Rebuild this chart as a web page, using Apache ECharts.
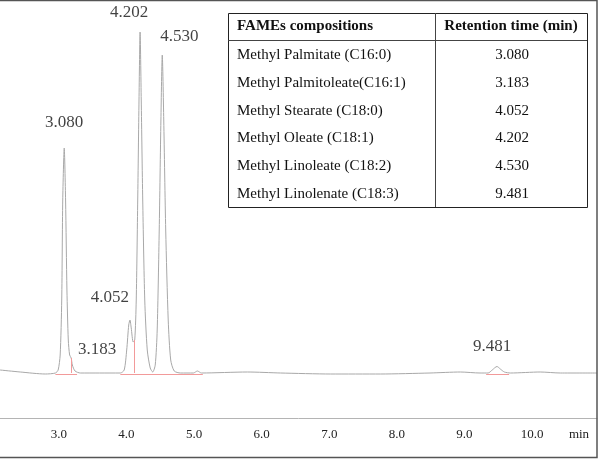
<!DOCTYPE html>
<html>
<head>
<meta charset="utf-8">
<script src="https://cdn.jsdelivr.net/npm/echarts@6/dist/echarts.min.js"></script>
<style>
  html, body { margin: 0; padding: 0; background: #fff; }
  #main { width: 600px; height: 459px; }
</style>
</head>
<body>
<div id="main"></div>
<script>
// 表格: 组分名 + 保留时间
const compounds = [
  'Methyl Palmitate (C16:0)',
  'Methyl Palmitoleate(C16:1)',
  'Methyl Stearate (C18:0)',
  'Methyl Oleate (C18:1)',
  'Methyl Linoleate (C18:2)',
  'Methyl Linolenate (C18:3)'
];
const retentionTimes = [3.080, 3.183, 4.052, 4.202, 4.530, 9.481];
// 峰高
const peakHeights = [225, 15, 53, 341, 318, 6.5];

// 色谱图曲线 [时间 min, 信号]
const traceTime = [
  2.13, 2.43, 2.80, 2.95, 2.99, 3.02, 3.043, 3.058, 3.080, 3.10, 3.12, 3.14, 3.16, 3.183, 3.20, 3.24, 3.32,
  3.60, 3.91, 3.967, 4.004, 4.034, 4.052, 4.071, 4.10, 4.123, 4.145, 4.167, 4.186, 4.202, 4.219, 4.241,
  4.271, 4.308, 4.352, 4.389, 4.426, 4.455, 4.485, 4.51, 4.530, 4.552, 4.581, 4.618, 4.655, 4.707, 4.80,
  4.99, 5.05, 5.11, 5.79, 6.28, 7.02, 7.76, 8.49, 8.94, 9.23, 9.35, 9.41, 9.481, 9.53, 9.59, 9.68,
  10.12, 10.42, 10.96
];
const traceSignal = [
  3, 1, -1, 0, 3, 18, 73, 173, 225, 173, 83, 33, 18, 15, 8, 2, 0,
  0, 0, 3, 23, 48, 53, 45, 31, 33, 73, 173, 273, 341, 273, 173,
  73, 23, 5, 1, 8, 43, 143, 253, 318, 253, 143, 53, 13, 2, 0,
  0, 2, 0, 1, 0, -1, -1, 0, 1, 0, 0, 3, 6.5, 4, 1, 0,
  1, 0, 0
];

// 积分基线 [起, 止] 和垂线 [时间, 高度]
const baseSegments = [[2.95, 3.27], [3.91, 5.13], [9.32, 9.66]];
const dropLines = [[3.183, 15], [4.123, 33]];

// 峰标签偏移
const labelOffsets = [[0, -25], [26, -8], [-20, -22], [-11, -19], [17, -18], [-5, -20]];

let chart = echarts.init(document.getElementById('main'));

let trace = traceTime.map((t, i) => [t, traceSignal[i]]);

let markData = [];
baseSegments.forEach(s => {
  markData.push([{ coord: [s[0], -0.8] }, { coord: [s[1], -0.8] }]);
});
dropLines.forEach(d => {
  markData.push([{ coord: [d[0], 0] }, { coord: [d[0], d[1]] }]);
});

let peakPoints = retentionTimes.map((t, i) => ({
  value: [t, peakHeights[i]],
  label: { offset: labelOffsets[i] }
}));

// 表格图形
const tLeft = 228, tRight = 587, tTop = 13, tBottom = 207, tMid = 435, headH = 27;
const rowH = (tBottom - tTop - headH) / compounds.length;
const serif = '"Liberation Serif", "Times New Roman", serif';
let tableEls = [
  {
    type: 'rect',
    shape: { x: tLeft + 0.5, y: tTop + 0.5, width: tRight - tLeft, height: tBottom - tTop },
    style: { fill: '#fff', stroke: '#222', lineWidth: 1 }
  },
  {
    type: 'line',
    shape: { x1: tMid + 0.5, y1: tTop, x2: tMid + 0.5, y2: tBottom },
    style: { stroke: '#444', lineWidth: 1 }
  },
  {
    type: 'line',
    shape: { x1: tLeft, y1: tTop + headH + 0.5, x2: tRight, y2: tTop + headH + 0.5 },
    style: { stroke: '#444', lineWidth: 1 }
  },
  {
    type: 'text', x: tLeft + 9, y: tTop + headH / 2,
    style: { text: 'FAMEs compositions', font: 'bold 15px ' + serif, fill: '#111', verticalAlign: 'middle' }
  },
  {
    type: 'text', x: (tMid + tRight) / 2, y: tTop + headH / 2,
    style: { text: 'Retention time (min)', font: 'bold 15px ' + serif, fill: '#111', align: 'center', verticalAlign: 'middle' }
  }
];
compounds.forEach((c, i) => {
  let cy = tTop + headH + rowH * i + rowH / 2 + 1;
  tableEls.push({
    type: 'text', x: tLeft + 9, y: cy,
    style: { text: c, font: '15px ' + serif, fill: '#111', verticalAlign: 'middle' }
  });
  tableEls.push({
    type: 'text', x: (tMid + tRight) / 2 + 1, y: cy,
    style: { text: retentionTimes[i].toFixed(3), font: '15px ' + serif, fill: '#111', align: 'center', verticalAlign: 'middle' }
  });
});

let option = {
  backgroundColor: '#ffffff',
  animation: false,
  grid: { left: 0, right: 3, top: 0, bottom: 41 },
  xAxis: {
    type: 'value',
    min: 2.13,
    max: 10.96,
    // 固定 1 min 间隔, 刻度取整数
    minInterval: 1,
    maxInterval: 1,
    splitNumber: 9,
    axisLine: { onZero: false, lineStyle: { color: '#b4b4b4', width: 1 } },
    axisTick: { show: false },
    splitLine: { show: false },
    axisLabel: {
      showMinLabel: false,
      showMaxLabel: false,
      margin: 10,
      fontFamily: serif,
      fontSize: 13,
      color: '#222',
      formatter: v => (Math.abs(v - Math.round(v)) < 1e-6 ? v.toFixed(1) : '')
    }
  },
  yAxis: {
    type: 'value',
    min: -45,
    max: 373,
    show: false
  },
  series: [
    {
      type: 'line',
      data: trace,
      symbol: 'none',
      smooth: 0.25,
      lineStyle: { color: '#a8a8a8', width: 1 },
      markLine: {
        silent: true,
        symbol: 'none',
        label: { show: false },
        lineStyle: { color: '#f29a9a', width: 1, type: 'solid' },
        data: markData
      },
      z: 3
    },
    {
      type: 'scatter',
      data: peakPoints,
      symbolSize: 0,
      label: {
        show: true,
        position: 'inside',
        fontFamily: serif,
        fontSize: 17,
        color: '#111',
        formatter: p => p.value[0].toFixed(3)
      },
      z: 4
    }
  ],
  graphic: [
    {
      type: 'rect',
      shape: { x: -2, y: 0.5, width: 599, height: 457 },
      style: { fill: 'none', stroke: '#555', lineWidth: 1.5 },
      z: 10
    },
    {
      type: 'text', x: 579, y: 435,
      style: { text: 'min', font: '13px ' + serif, fill: '#222', align: 'center', verticalAlign: 'middle' }
    },
    {
      type: 'group',
      children: tableEls,
      z: 5
    }
  ]
};

chart.setOption(option);
</script>
</body>
</html>
